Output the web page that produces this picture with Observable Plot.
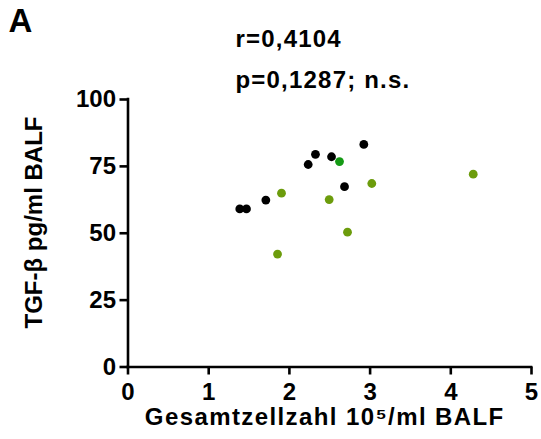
<!DOCTYPE html>
<html><head><meta charset="utf-8">
<script src="https://cdn.jsdelivr.net/npm/d3@7"></script>
<script src="https://cdn.jsdelivr.net/npm/@observablehq/plot@0.6"></script>
<style>body{margin:0;background:#fff}</style>
</head><body><div id="chart"></div>
<script>
// Data
const blackX = [1.385, 1.468, 1.708, 2.233, 2.323, 2.522, 2.683, 2.922];
const blackY = [59.1, 59.1, 62.4, 75.7, 79.5, 78.6, 67.4, 83.2];
const oliveX = [1.902, 2.493, 2.720, 1.853, 3.021, 4.278];
const oliveY = [65.0, 62.6, 50.4, 42.2, 68.6, 72.1];
const greenX = [2.621];
const greenY = [76.8];
const xTicks = [0, 1, 2, 3, 4, 5];
const yTicks = [0, 25, 50, 75, 100];
const panelLabel = "A";
const rText = "r=0,4104";
const pText = "p=0,1287; n.s.";
const xTitle = "Gesamtzellzahl 10⁵/ml BALF";
const yTitle = "TGF-β pg/ml BALF";

const toRows = (xs, ys) => xs.map((x, i) => ({x, y: ys[i]}));
const black = toRows(blackX, blackY);
const olive = toRows(oliveX, oliveY);
const green = toRows(greenX, greenY);

const font = "'Liberation Sans', Arial, sans-serif";
const svg = Plot.plot({
  width: 541,
  height: 439,
  marginLeft: 127.5,
  marginRight: 10,
  marginTop: 99,
  marginBottom: 72.5,
  style: {fontFamily: font, fontWeight: "bold", fontSize: "24px", color: "#000", background: "#fff"},
  x: {domain: [0, 5]},
  y: {domain: [0, 100]},
  marks: [
    Plot.ruleX([0], {stroke: "#000", strokeWidth: 2.6, strokeLinecap: "square"}),
    Plot.ruleY([0], {stroke: "#000", strokeWidth: 2.6, strokeLinecap: "square"}),
    Plot.axisX({ticks: xTicks, tickSize: 8, tickPadding: 8, strokeWidth: 2.6, fontSize: 24, label: null, tickFormat: d => String(d)}),
    Plot.axisY({ticks: yTicks, tickSize: 8, tickPadding: 4, strokeWidth: 2.6, fontSize: 24, label: null, tickFormat: d => String(d)}),
    Plot.dot(black, {x: "x", y: "y", r: 4.4, fill: "#000", stroke: "none"}),
    Plot.dot(olive, {x: "x", y: "y", r: 4.4, fill: "#6c9c0c", stroke: "none"}),
    Plot.dot(green, {x: "x", y: "y", r: 4.4, fill: "#149a14", stroke: "none"}),
    Plot.text([xTitle], {frameAnchor: "bottom", textAnchor: "middle", dx: -5, dy: 50, fontSize: 24, fontWeight: "bold", lineAnchor: "middle"}),
    Plot.text([yTitle], {frameAnchor: "left", textAnchor: "middle", rotate: -90, dx: -93.5, dy: -10.75, fontSize: 24, fontWeight: "bold", lineAnchor: "middle"}),
    Plot.text([panelLabel], {frameAnchor: "top-left", textAnchor: "start", dx: -119.5, dy: -77.6, fontSize: 33, fontWeight: "bold", lineAnchor: "middle"}),
    Plot.text([rText], {frameAnchor: "top-left", textAnchor: "start", dx: 107.5, dy: -59.7, fontSize: 24, fontWeight: "bold", lineAnchor: "middle"}),
    Plot.text([pText], {frameAnchor: "top-left", textAnchor: "start", dx: 107.5, dy: -18.7, fontSize: 24, fontWeight: "bold", lineAnchor: "middle"})
  ]
});
const sel = d3.select(svg).selectAll("text");
sel.filter(function() { return this.textContent === rText || this.textContent === pText; }).style("letter-spacing", "1.2px");
sel.filter(function() { return this.textContent === xTitle; }).style("letter-spacing", "1.4px");
document.getElementById("chart").appendChild(svg);
</script>
</body></html>
